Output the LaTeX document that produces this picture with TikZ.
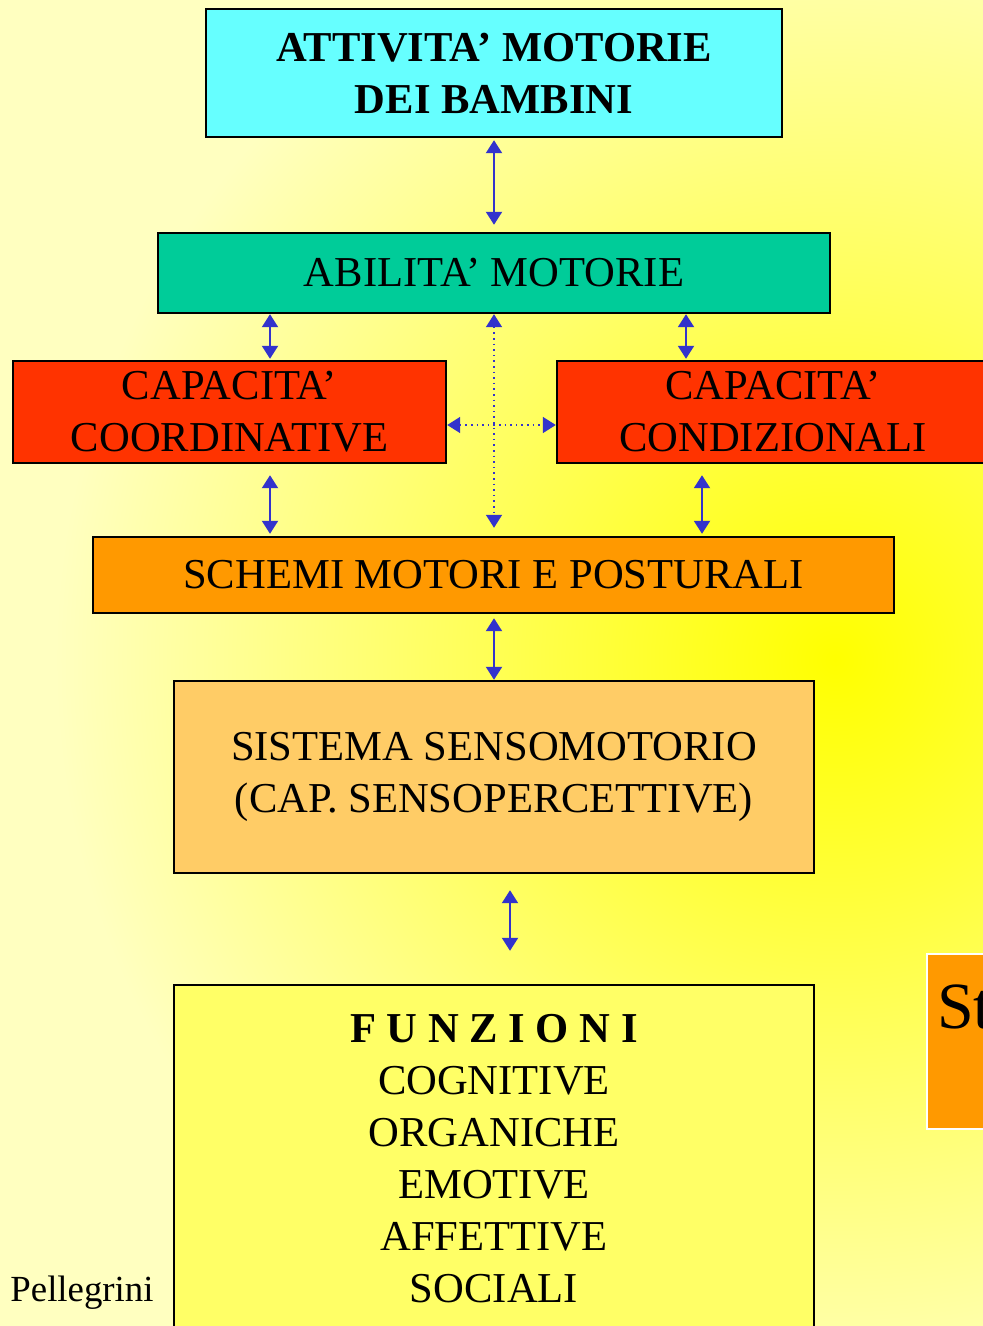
\documentclass[tikz,border=0pt]{standalone}
\usepackage{fontspec}
\setmainfont{Liberation Serif}
\usetikzlibrary{arrows.meta}

\definecolor{bgpale}{HTML}{FFFFC0}
\definecolor{bgyel}{HTML}{FFFF00}
\definecolor{cyanbox}{HTML}{66FFFF}
\definecolor{greenbox}{HTML}{00CC99}
\definecolor{redbox}{HTML}{FF3300}
\definecolor{orangebox}{HTML}{FF9900}
\definecolor{peachbox}{HTML}{FFCC66}
\definecolor{yelbox}{HTML}{FFFF66}
\definecolor{arrowblue}{HTML}{3333CC}

\begin{document}
\begin{tikzpicture}[x=0.5pt,y=-0.5pt,
  main/.style = {draw, line width=1.2pt, rectangle, align=center, font=\fontsize{21.3pt}{26pt}\selectfont},
  link/.style = {arrowblue, line width=1pt, {Triangle[length=6.5pt,width=8pt]}-{Triangle[length=6.5pt,width=8pt]}},
  dots/.style = {link, line width=0.8pt, dotted}]
\useasboundingbox (0,0) rectangle (983,1326);
\begin{scope}
\clip (0,0) rectangle (983,1326);
\fill[bgpale] (0,0) rectangle (983,1326);
\shade[inner color=bgyel, outer color=bgpale] (835,660) circle (780);
\end{scope}
\node[main, fill=cyanbox, minimum width=288pt, minimum height=64pt, font={\fontsize{21.3pt}{26pt}\selectfont\bfseries}] (att) at (494,73) {ATTIVITA’ MOTORIE\\DEI BAMBINI};
\node[main, fill=greenbox, minimum width=336pt, minimum height=40pt] (abil) at (494,273) {ABILITA’ MOTORIE};
\node[main, fill=redbox, minimum width=216.5pt, minimum height=51pt] (coord) at (229.5,412) {CAPACITA’\\COORDINATIVE};
\node[main, fill=redbox, minimum width=216pt, minimum height=51pt] (cond) at (773,412) {CAPACITA’\\CONDIZIONALI};
\node[main, fill=orangebox, minimum width=400.5pt, minimum height=38pt] (schemi) at (493.5,575) {SCHEMI MOTORI E POSTURALI};
\node[main, fill=peachbox, minimum width=320pt, minimum height=96pt] (sist) at (494,777) {SISTEMA SENSOMOTORIO\\(CAP. SENSOPERCETTIVE)};
\node[main, fill=yelbox, minimum width=320pt, minimum height=174pt] (funz) at (494,1159) {\textbf{F U N Z I O N I}\\COGNITIVE\\ORGANICHE\\EMOTIVE\\AFFETTIVE\\SOCIALI};
\node[draw=white, line width=1.2pt, fill=orangebox, anchor=north west, text width=30pt, align=left, inner xsep=5pt, inner ysep=7pt, text height=30pt, text depth=43.5pt, font=\fontsize{33pt}{40pt}\selectfont] (st) at (926,953) {St};
\node[font=\fontsize{18.4pt}{22pt}\selectfont] (autore) at (82,1293) {Pellegrini};
\coordinate (xa) at (270,0);
\coordinate (xb) at (686,0);
\coordinate (xc) at (702,0);
\coordinate (xd) at (510,0);
\coordinate (mid) at (494,425);
\draw[link, shorten <=1pt, shorten >=3.5pt] (att) -- (abil);
\draw[link, shorten >=0.5pt] (abil.south -| xa) -- (coord.north -| xa);
\draw[link, shorten >=0.5pt] (abil.south -| xb) -- (cond.north -| xb);
\draw[dots, shorten >=4pt] (abil.south) -- (schemi.north -| abil.south);
\draw[dots] (coord.east |- mid) -- (cond.west |- mid);
\draw[link, shorten <=5.5pt, shorten >=1pt] (coord.south -| xa) -- (schemi.north -| xa);
\draw[link, shorten <=5.5pt, shorten >=1pt] (cond.south -| xc) -- (schemi.north -| xc);
\draw[link, shorten <=2pt] (schemi.south -| sist.north) -- (sist.north);
\draw[link, shorten <=8pt, shorten >=16.5pt] (sist.south -| xd) -- (funz.north -| xd);
\end{tikzpicture}
\end{document}
